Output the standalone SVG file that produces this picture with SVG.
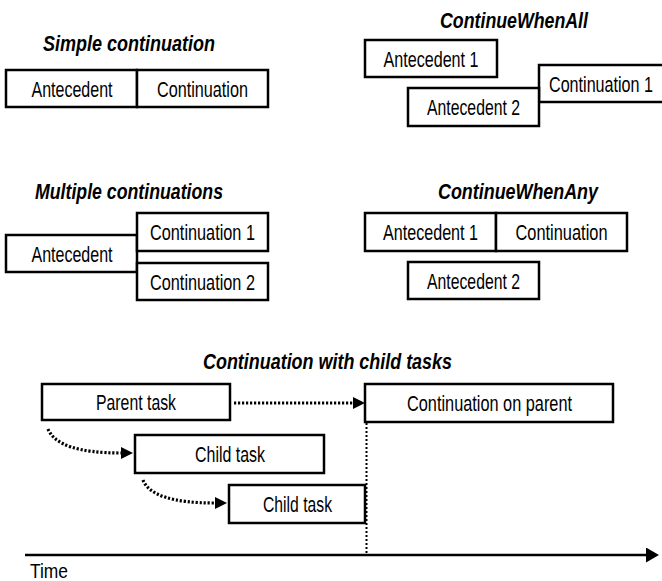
<svg xmlns="http://www.w3.org/2000/svg" width="662" height="581" viewBox="0 0 662 581">
<style>
.box{fill:#fff;stroke:#000;stroke-width:2.5}
.t{font-family:"Liberation Sans",Arial,sans-serif;font-size:22.5px;fill:#000;text-anchor:middle}
.h{font-family:"Liberation Sans",Arial,sans-serif;font-size:22px;font-weight:bold;font-style:italic;fill:#000;text-anchor:middle}
.dot{fill:none;stroke:#000;stroke-width:3.2;stroke-dasharray:2.2 1.8}
</style>
<defs>
<marker id="ah" viewBox="0 0 12 12" refX="0" refY="6" markerWidth="12" markerHeight="12" markerUnits="userSpaceOnUse" orient="auto">
<path d="M0,0 L12,6 L0,12 Z" fill="#000"/>
</marker>
<marker id="ah2" viewBox="0 0 13 15" refX="0" refY="7.5" markerWidth="13" markerHeight="15" markerUnits="userSpaceOnUse" orient="auto">
<path d="M0,0 L13,7.5 L0,15 Z" fill="#000"/>
</marker>
</defs>

<g id="titles">
<text class="h" x="129" y="51" textLength="172" lengthAdjust="spacingAndGlyphs">Simple continuation</text>
<text class="h" x="514" y="28" textLength="148" lengthAdjust="spacingAndGlyphs">ContinueWhenAll</text>
<text class="h" x="129" y="199" textLength="188" lengthAdjust="spacingAndGlyphs">Multiple continuations</text>
<text class="h" x="518" y="199" textLength="160" lengthAdjust="spacingAndGlyphs">ContinueWhenAny</text>
<text class="h" x="327.5" y="369" textLength="249" lengthAdjust="spacingAndGlyphs">Continuation with child tasks</text>
</g>

<!-- Simple continuation -->
<g id="simple-antecedent">
<rect class="box" x="6" y="70" width="131" height="37"/>
<text class="t" x="72" y="97" textLength="81" lengthAdjust="spacingAndGlyphs">Antecedent</text>
</g>
<g id="simple-continuation">
<rect class="box" x="137" y="70" width="131" height="37"/>
<text class="t" x="202.5" y="97" textLength="91" lengthAdjust="spacingAndGlyphs">Continuation</text>
</g>

<!-- ContinueWhenAll -->
<g id="all-antecedent1">
<rect class="box" x="365" y="40" width="132" height="37"/>
<text class="t" x="431" y="67" textLength="95" lengthAdjust="spacingAndGlyphs">Antecedent 1</text>
</g>
<g id="all-continuation1">
<rect class="box" x="539" y="65" width="131" height="37"/>
<text class="t" x="601" y="92" textLength="104" lengthAdjust="spacingAndGlyphs">Continuation 1</text>
</g>
<g id="all-antecedent2">
<rect class="box" x="408" y="88" width="131" height="38"/>
<text class="t" x="473.5" y="115" textLength="93" lengthAdjust="spacingAndGlyphs">Antecedent 2</text>
</g>

<!-- Multiple continuations -->
<g id="multi-antecedent">
<rect class="box" x="6" y="235" width="131" height="37"/>
<text class="t" x="72" y="262" textLength="81" lengthAdjust="spacingAndGlyphs">Antecedent</text>
</g>
<g id="multi-continuation1">
<rect class="box" x="137" y="213" width="131" height="38"/>
<text class="t" x="202.5" y="240" textLength="105" lengthAdjust="spacingAndGlyphs">Continuation 1</text>
</g>
<g id="multi-continuation2">
<rect class="box" x="137" y="263" width="131" height="37"/>
<text class="t" x="202.5" y="290" textLength="105" lengthAdjust="spacingAndGlyphs">Continuation 2</text>
</g>

<!-- ContinueWhenAny -->
<g id="any-antecedent1">
<rect class="box" x="365" y="213" width="131" height="38"/>
<text class="t" x="430.5" y="240" textLength="95" lengthAdjust="spacingAndGlyphs">Antecedent 1</text>
</g>
<g id="any-continuation">
<rect class="box" x="496" y="213" width="131" height="38"/>
<text class="t" x="561.5" y="240" textLength="92" lengthAdjust="spacingAndGlyphs">Continuation</text>
</g>
<g id="any-antecedent2">
<rect class="box" x="408" y="262" width="131" height="37"/>
<text class="t" x="473.5" y="289" textLength="93" lengthAdjust="spacingAndGlyphs">Antecedent 2</text>
</g>

<!-- Continuation with child tasks -->
<g id="parent-task">
<rect class="box" x="42" y="384" width="188" height="36"/>
<text class="t" x="136" y="410" textLength="80" lengthAdjust="spacingAndGlyphs">Parent task</text>
</g>
<g id="continuation-on-parent">
<rect class="box" x="365" y="384" width="248" height="38"/>
<text class="t" x="489.5" y="411" textLength="165" lengthAdjust="spacingAndGlyphs">Continuation on parent</text>
</g>
<g id="child-task1">
<rect class="box" x="135" y="435" width="189" height="38"/>
<text class="t" x="230" y="462" textLength="70" lengthAdjust="spacingAndGlyphs">Child task</text>
</g>
<g id="child-task2">
<rect class="box" x="229" y="485" width="136" height="38"/>
<text class="t" x="297.5" y="512" textLength="69" lengthAdjust="spacingAndGlyphs">Child task</text>
</g>

<g id="connectors">
<path class="dot" d="M234,403 H353" marker-end="url(#ah)"/>
<path class="dot" d="M48,429 Q58,453 121,453" marker-end="url(#ah)"/>
<path class="dot" d="M143,480 Q152,503 215,503" marker-end="url(#ah)"/>
<path d="M366.5,423 V555" fill="none" stroke="#000" stroke-width="2" stroke-dasharray="2 2"/>
</g>

<g id="time-axis">
<path d="M25,555 H646" fill="none" stroke="#000" stroke-width="2.5" marker-end="url(#ah2)"/>
<text x="30" y="578" font-family="'Liberation Sans',Arial,sans-serif" font-size="21" textLength="38" lengthAdjust="spacingAndGlyphs">Time</text>
</g>
</svg>
